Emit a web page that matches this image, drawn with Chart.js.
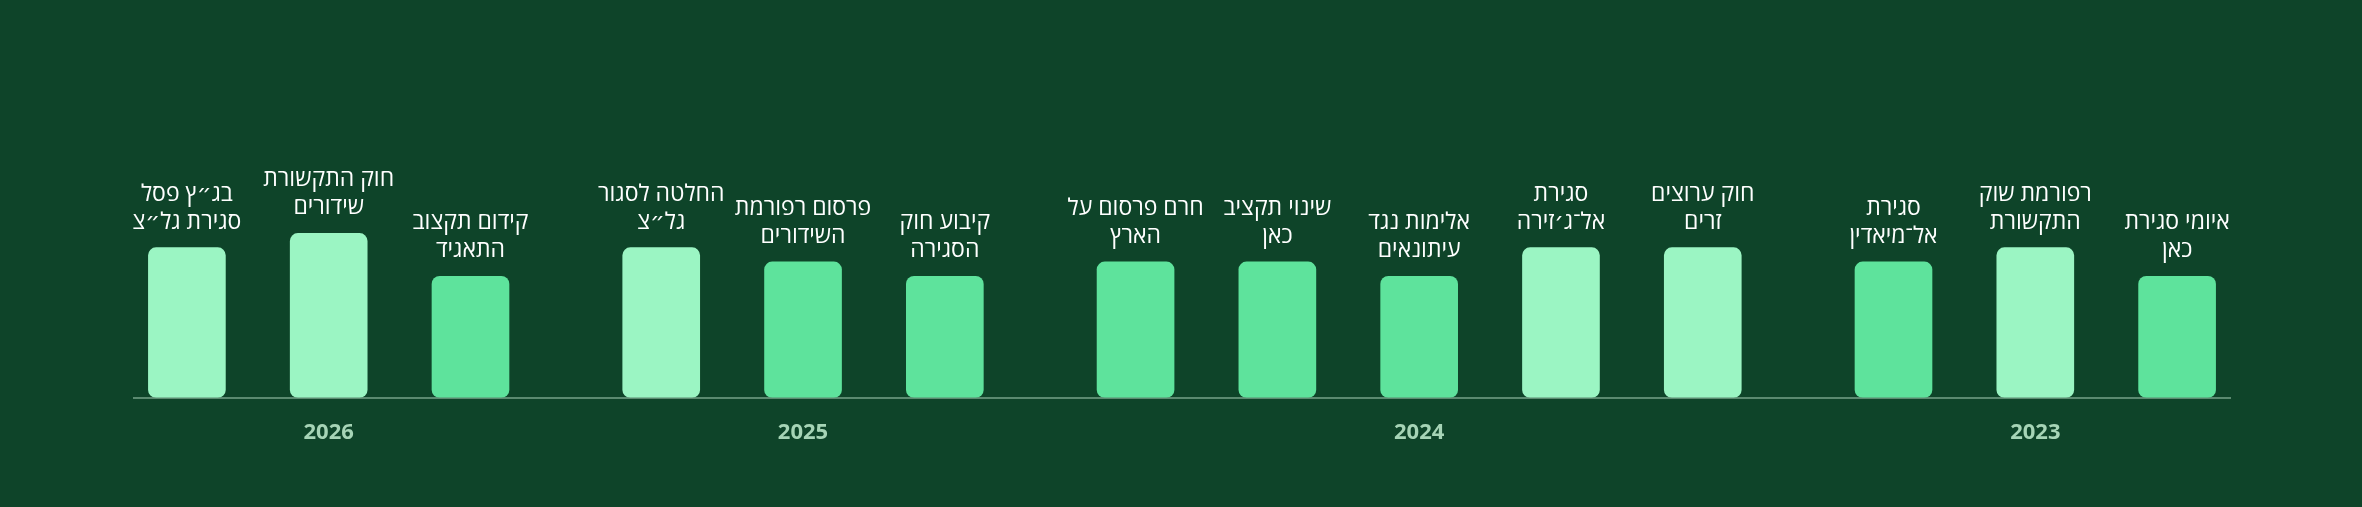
<!DOCTYPE html>
<html lang="he">
<head>
<meta charset="utf-8">
<script src="https://cdn.jsdelivr.net/npm/chart.js@4"></script>
<style>
  html, body { margin: 0; padding: 0; background: #0e4429; overflow: hidden; }
</style>
</head>
<body>
<canvas id="timeline" width="2362" height="507"></canvas>
<script>
// אירועים בסדר כרונולוגי (הראשון מוצג מימין)
const years = ['2023', '2024', '2025', '2026'];
const eventYear = ['2023', '2023', '2023', '2024', '2024', '2024', '2024', '2024', '2025', '2025', '2025', '2026', '2026', '2026'];
const events = [
    ['איומי סגירת', 'כאן'],
    ['רפורמת שוק', 'התקשורת'],
    ['סגירת', 'אל־מיאדין'],
    ['חוק ערוצים', 'זרים'],
    ['סגירת', 'אל־ג׳זירה'],
    ['אלימות נגד', 'עיתונאים'],
    ['שינוי תקציב', 'כאן'],
    ['חרם פרסום על', 'הארץ'],
    ['קיבוע חוק', 'הסגירה'],
    ['פרסום רפורמת', 'השידורים'],
    ['החלטה לסגור', 'גל״צ'],
    ['קידום תקצוב', 'התאגיד'],
    ['חוק התקשורת', 'שידורים'],
    ['בג״ץ פסל', 'סגירת גל״צ']
];
const severity = [85, 105, 95, 105, 105, 85, 95, 95, 85, 95, 105, 85, 115, 105];

const LIGHT = '#9bf5c3';
const MEDIUM = '#5ee39c';
const GROUP_GAP = 0.345; // רווח נוסף בין שנים
const FONT = "'Open Sans', 'DejaVu Sans', sans-serif";

// מיקום על הציר: אינדקס + רווח לכל מעבר שנה
const points = severity.map((v, i) => ({
    x: i + years.indexOf(eventYear[i]) * GROUP_GAP,
    y: v
}));
const yearCenters = years.map(yr => {
    const xs = points.filter((p, i) => eventYear[i] === yr).map(p => p.x);
    return (Math.min(...xs) + Math.max(...xs)) / 2;
});

// כיתוב מעל כל עמודה
const eventLabels = {
    id: 'eventLabels',
    afterDatasetsDraw(chart) {
        const ctx = chart.ctx;
        const meta = chart.getDatasetMeta(0);
        ctx.save();
        ctx.font = '23px ' + FONT;
        ctx.fillStyle = '#ffffff';
        ctx.textAlign = 'center';
        ctx.textBaseline = 'alphabetic';
        ctx.direction = 'rtl';
        meta.data.forEach((bar, i) => {
            const lines = events[i];
            lines.forEach((line, j) => {
                const y = bar.y - 19 - (lines.length - 1 - j) * 28;
                ctx.fillText(line, bar.x, y);
            });
        });
        ctx.restore();
    }
};

new Chart(document.getElementById('timeline'), {
    type: 'bar',
    data: {
        datasets: [{
            label: 'אירועים',
            data: points,
            backgroundColor: severity.map(v => v >= 105 ? LIGHT : MEDIUM),
            borderRadius: 8,
            borderSkipped: false,
            barThickness: 77
        }]
    },
    options: {
        responsive: false,
        animation: false,
        devicePixelRatio: 1,
        layout: {
            padding: { top: 112, left: 134, right: 132, bottom: 39 }
        },
        plugins: {
            legend: { display: false },
            tooltip: { enabled: false }
        },
        scales: {
            x: {
                type: 'linear',
                reverse: true,
                offset: false,
                min: -0.373,
                max: 14.408,
                grid: { display: false, drawTicks: false },
                border: { display: true, color: '#5b8a70', width: 2 },
                afterBuildTicks: scale => {
                    scale.ticks = yearCenters.map(v => ({ value: v }));
                },
                ticks: {
                    autoSkip: false,
                    maxRotation: 0,
                    padding: 22,
                    color: '#a6d4b6',
                    font: { family: FONT, size: 22, weight: 'bold' },
                    callback: (value, index) => years[index]
                }
            },
            y: {
                display: false,
                min: 0,
                max: 200
            }
        }
    },
    plugins: [eventLabels]
});
</script>
</body>
</html>
